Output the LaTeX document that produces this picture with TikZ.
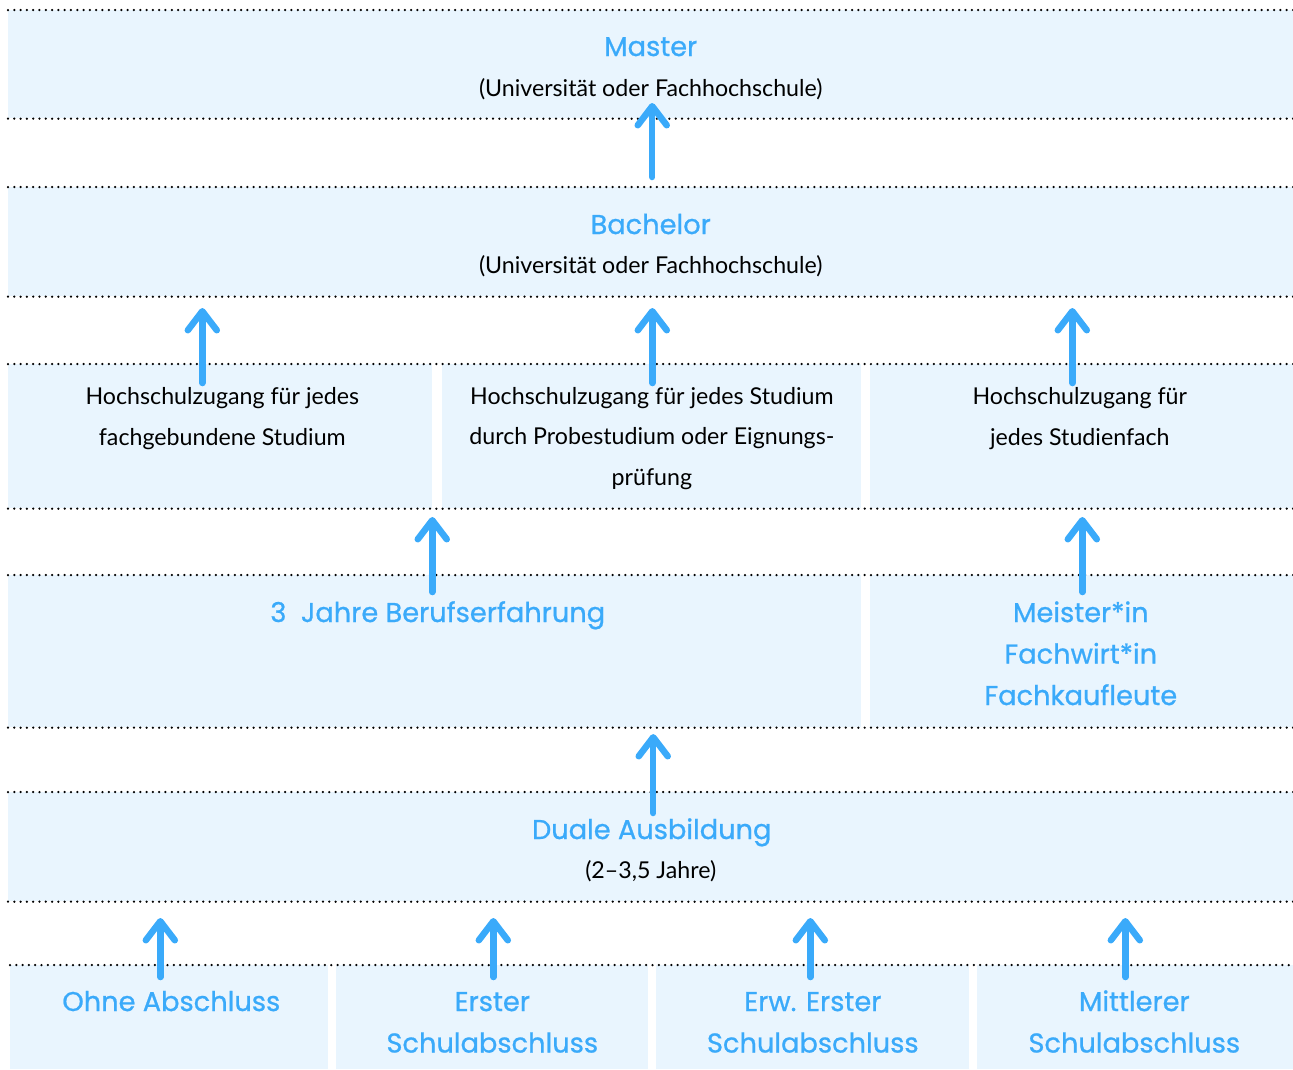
\documentclass[tikz,border=0pt]{standalone}
\usepackage{fontspec}
\setmainfont{Lato}
\newfontfamily\headfont{Poppins}[FakeBold=0.8]
\usetikzlibrary{arrows.meta,calc}
\definecolor{boxblue}{RGB}{233,245,254}
\definecolor{arrowblue}{RGB}{58,170,250}

\begin{document}
\begin{tikzpicture}[x=0.02cm, y=-0.02cm,
    box/.style={fill=boxblue, inner sep=0pt, anchor=north west},
    head/.style={text=arrowblue, font=\headfont\fontsize{15.5}{23.6}\selectfont, align=center, inner sep=0pt, anchor=base},
    plain/.style={font=\fontsize{13.2}{22.8}\selectfont, align=center, inner sep=0pt, anchor=base},
    dots/.style={line width=0.05cm, line cap=round, dash pattern=on 0pt off 0.126cm},
    up/.style={arrowblue, line width=0.13cm, line cap=round, -{Straight Barb[length=0.38cm, width=0.58cm, round]}}]
            \useasboundingbox (0,0) rectangle (1293,1069);

            % Draw boxes
            \node[box, minimum width=25.7cm, minimum height=2.16cm] (master) at (8,10) {};
            \node[box, minimum width=25.7cm, minimum height=2.18cm] (bachelor) at (8,187) {};
            \node[box, minimum width=8.48cm, minimum height=2.88cm] (hA) at (8,364) {};
            \node[box, minimum width=8.38cm, minimum height=2.88cm] (hB) at (442,364) {};
            \node[box, minimum width=8.46cm, minimum height=2.88cm] (hC) at (870,364) {};
            \node[box, minimum width=17.06cm, minimum height=3.04cm] (berufs) at (8,575) {};
            \node[box, minimum width=8.46cm, minimum height=3.04cm] (meister) at (870,575) {};
            \node[box, minimum width=25.7cm, minimum height=2.18cm] (duale) at (8,792) {};
            \node[box, minimum width=6.36cm, minimum height=2.08cm] (ohne) at (10,965) {};
            \node[box, minimum width=6.24cm, minimum height=2.08cm] (erster) at (336,965) {};
            \node[box, minimum width=6.26cm, minimum height=2.08cm] (erw) at (656,965) {};
            \node[box, minimum width=6.32cm, minimum height=2.08cm] (mittel) at (977,965) {};

            % Draw dotted rules
            \draw[dots] (master.north west) -- (master.north east);
            \draw[dots] (master.south west) -- (master.south east);
            \draw[dots] (bachelor.north west) -- (bachelor.north east);
            \draw[dots] (bachelor.south west) -- (bachelor.south east);
            \draw[dots] (hA.north west) -- (hC.north east);
            \draw[dots] (hA.south west) -- (hC.south east);
            \draw[dots] (berufs.north west) -- (meister.north east);
            \draw[dots] (berufs.south west) -- (meister.south east);
            \draw[dots] (duale.north west) -- (duale.north east);
            \draw[dots] (duale.south west) -- (duale.south east);
            \draw[dots] (ohne.north west) -- (mittel.north east);

            % Draw texts (base = last line)
            \node[head] (masterT) at ($(master.north)+(0,46)$) {Master};
            \node[plain] (masterS) at ($(master.north)+(0,86)$) {(Universität oder Fachhochschule)};
            \node[head] (bachelorT) at ($(bachelor.north)+(0,47)$) {Bachelor};
            \node[plain] (bachelorS) at ($(bachelor.north)+(0,86)$) {(Universität oder Fachhochschule)};
            \node[plain] (hAT) at ($(hA.north)+(2,81)$) {Hochschulzugang für jedes\\fachgebundene Studium};
            \node[plain] (hBT) at ($(hB.north)+(0,121)$) {Hochschulzugang für jedes Studium\\durch Probestudium oder Eignungs-\\prüfung};
            \node[plain] (hCT) at ($(hC.north)+(-2,81)$) {Hochschulzugang für\\jedes Studienfach};
            \node[head] (berufsT) at ($(berufs.north)+(3,47)$) {3\ \ Jahre Berufserfahrung};
            \node[head] (meisterT) at ($(meister.north)+(-1,130)$) {Meister*in\\Fachwirt*in\\Fachkaufleute};
            \node[head] (dualeT) at ($(duale.north)+(1,47)$) {Duale Ausbildung};
            \node[plain] (dualeS) at ($(duale.north)+(0,86)$) {(2–3,5 Jahre)};
            \node[head] (ohneT) at ($(ohne.north)+(2,46)$) {Ohne Abschluss};
            \node[head] (ersterT) at ($(erster.north)+(0,87.5)$) {Erster\\Schulabschluss};
            \node[head] (erwT) at ($(erw.north)+(0,87.5)$) {Erw. Erster\\Schulabschluss};
            \node[head] (mittelT) at ($(mittel.north)+(-1,87.5)$) {Mittlerer\\Schulabschluss};

            % Draw arrows
            \draw[up] ($(bachelor.north)+(1.5,-10)$) -- ++(0,-74);
            \draw[up] ($(hA.north)+(-18,19)$) -- ++(0,-75);
            \draw[up] ($(hB.north)+(0.5,19)$) -- ++(0,-75);
            \draw[up] ($(hC.north)+(-9.5,19)$) -- ++(0,-75);
            \draw[up] ($(berufs.north)+(-2.5,17)$) -- ++(0,-75);
            \draw[up] ($(meister.north)+(0.5,17)$) -- ++(0,-75);
            \draw[up] ($(duale.north)+(2.5,21)$) -- ++(0,-79);
            \draw[up] ($(ohne.north)+(-9,12)$) -- ++(0,-59);
            \draw[up] ($(erster.north)+(1,12)$) -- ++(0,-59);
            \draw[up] ($(erw.north)+(-2.5,12)$) -- ++(0,-59);
            \draw[up] ($(mittel.north)+(-10,12)$) -- ++(0,-59);
        \end{tikzpicture}
\end{document}
